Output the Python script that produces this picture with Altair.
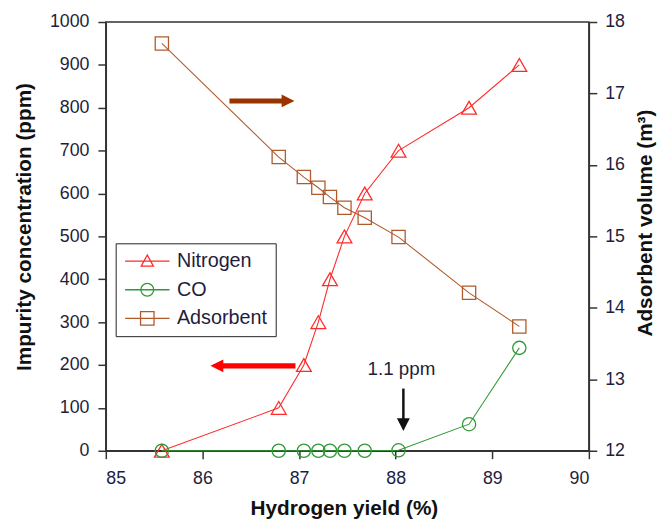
import altair as alt
import pandas as pd

# ---- data ----
yield_pct = [85.58, 86.79, 87.05, 87.20, 87.32, 87.47, 87.68, 88.03, 88.76, 89.28]
nitrogen_ppm = [0, 100, 200, 300, 400, 500, 600, 700, 800, 900]
co_ppm = [0, 0, 0, 0, 0, 0, 0, 1.1, 62, 240]
adsorbent_m3 = [17.70, 16.11, 15.83, 15.68, 15.55, 15.40, 15.26, 14.99, 14.21, 13.74]
series_names = ["Nitrogen", "CO", "Adsorbent"]
x_ticks = [85, 86, 87, 88, 89, 90]
left_ticks = [0, 100, 200, 300, 400, 500, 600, 700, 800, 900, 1000]
right_ticks = [12, 13, 14, 15, 16, 17, 18]
note_text = ["1.1 ppm"]

# ---- styling ----
FONT = "Liberation Sans"
C_N2 = "#ff2b2b"
C_CO = "#2f9a35"
C_ADS = "#b05a2c"
C_BROWN_ARROW = "#9a3300"
C_RED_ARROW = "#ff0000"
C_LABEL = "#1e1e3c"

n2_df = pd.DataFrame({"x": yield_pct, "v": nitrogen_ppm})
co_df = pd.DataFrame({"x": yield_pct, "v": co_ppm})
ads_df = pd.DataFrame({"x": yield_pct, "v": adsorbent_m3})

x_enc = alt.X(
    "x:Q",
    scale=alt.Scale(domain=[85, 90], nice=False, zero=False),
    axis=alt.Axis(values=x_ticks, format="d", title="Hydrogen yield (%)",
                  titleX=241, titleY=59, titleBaseline="middle", titleAlign="center",
                  labelPadding=11),
)
y_left = alt.Y(
    "v:Q",
    scale=alt.Scale(domain=[0, 1000], nice=False),
    axis=alt.Axis(values=left_ticks, format="d", orient="left", title="Impurity concentration (ppm)",
                  titleAngle=270, titleX=-82, titleY=207, titleAlign="center",
                  titleBaseline="middle", labelPadding=9),
)
y_right = alt.Y(
    "v:Q",
    scale=alt.Scale(domain=[12, 18], nice=False, zero=False),
    axis=alt.Axis(values=right_ticks, format="d", orient="right", title="Adsorbent volume (m³)",
                  titleAngle=270, titleX=57, titleY=203, titleAlign="center",
                  titleBaseline="middle", labelPadding=8),
)

def series_layers(df, y, color, shape, size):
    line = alt.Chart(df).mark_line(color=color, strokeWidth=1.1).encode(x=x_enc, y=y)
    pts = alt.Chart(df).mark_point(shape=shape, filled=False, size=size, color=color,
                                   strokeWidth=1.3, opacity=1).encode(x=x_enc, y=y)
    return [line, pts]

# annotation arrows (data-space anchors)
brown_shaft = pd.DataFrame({"x": [86.28], "x2": [86.86], "v": [816]})
brown_head = pd.DataFrame({"x": [86.886], "v": [816]})
red_shaft = pd.DataFrame({"x": [86.19], "x2": [86.963], "v": [198]})
red_head = pd.DataFrame({"x": [86.15], "v": [198]})
black_shaft = pd.DataFrame({"x": [88.08], "v": [145], "v2": [70]})
black_head = pd.DataFrame({"x": [88.08], "v": [61]})
note_df = pd.DataFrame({"x": [88.06], "v": [191], "t": note_text})

HEAD_RIGHT = "M1,0L-1,-1L-1,1Z"
HEAD_LEFT = "M-1,0L1,-1L1,1Z"
HEAD_DOWN = "M0,1L-1,-1L1,-1Z"

ann = [
    alt.Chart(brown_shaft).mark_rule(color=C_BROWN_ARROW, strokeWidth=5).encode(x=x_enc, x2="x2:Q", y=y_left),
    alt.Chart(brown_head).mark_point(shape=HEAD_RIGHT, filled=True, size=169, color=C_BROWN_ARROW, opacity=1).encode(x=x_enc, y=y_left),
    alt.Chart(red_shaft).mark_rule(color=C_RED_ARROW, strokeWidth=5.5).encode(x=x_enc, x2="x2:Q", y=y_left),
    alt.Chart(red_head).mark_point(shape=HEAD_LEFT, filled=True, size=169, color=C_RED_ARROW, opacity=1).encode(x=x_enc, y=y_left),
    alt.Chart(black_shaft).mark_rule(color="#111111", strokeWidth=2.5).encode(x=x_enc, y=y_left, y2="v2:Q"),
    alt.Chart(black_head).mark_point(shape=HEAD_DOWN, filled=True, size=169, color="#111111", opacity=1).encode(x=x_enc, y=y_left),
    alt.Chart(note_df).mark_text(font=FONT, fontSize=19, color=C_LABEL, baseline="middle", align="center").encode(x=x_enc, y=y_left, text="t:N"),
]

left = alt.layer(
    *series_layers(n2_df, y_left, C_N2, "triangle-up", 225),
    *series_layers(co_df, y_left, C_CO, "circle", 180),
    *ann,
)
right = alt.layer(*series_layers(ads_df, y_right, C_ADS, "square", 180))

# legend: symbol = line through marker, drawn by Vega's legend
legend_paths = [
    "M-3.46,0H3.46M0,-0.95L-0.95,0.8H0.95Z",
    "M-3.46,0H3.46M1,0A1,1,0,1,1,-1,0A1,1,0,1,1,1,0",
    "M-3.46,0H3.46M-1.05,-1.05H1.05V1.05H-1.05Z",
]
legend_def = alt.Legend(
    orient="none", legendX=10, legendY=224, title=None,
    strokeColor="#222222", padding=8, labelFont=FONT, labelFontSize=20,
    labelColor=C_LABEL, symbolSize=169, symbolStrokeWidth=1.3, rowPadding=9,
    labelOffset=20, symbolOffset=14,
)
legend_layer = alt.Chart(pd.DataFrame({"series": series_names})).mark_point(
    filled=False, strokeWidth=1.3, opacity=1
).encode(
    color=alt.Color("series:N", scale=alt.Scale(domain=series_names, range=[C_N2, C_CO, C_ADS]), legend=legend_def),
    shape=alt.Shape("series:N", scale=alt.Scale(domain=series_names, range=legend_paths), legend=legend_def),
).transform_filter("false")

chart = alt.layer(left, right, legend_layer).resolve_scale(
    y="independent", color="independent", shape="independent"
).properties(
    width=489, height=434,
    autosize=alt.AutoSizeParams(type="none"),
    padding={"left": 99, "top": 11, "right": 72, "bottom": 75},
    background="white",
).configure_view(
    stroke="#333333", strokeWidth=1.5
).configure_axis(
    grid=False, labelFont=FONT, labelFontSize=18, labelColor=C_LABEL,
    titleFont=FONT, titleFontSize=21, titleFontWeight="bold", titleColor="#111111",
    tickSize=8, tickColor="#333333", tickWidth=1.5, domainColor="#333333", domainWidth=1.5,
)

chart.save("out.html", embed_options={"renderer": "svg", "actions": False})
